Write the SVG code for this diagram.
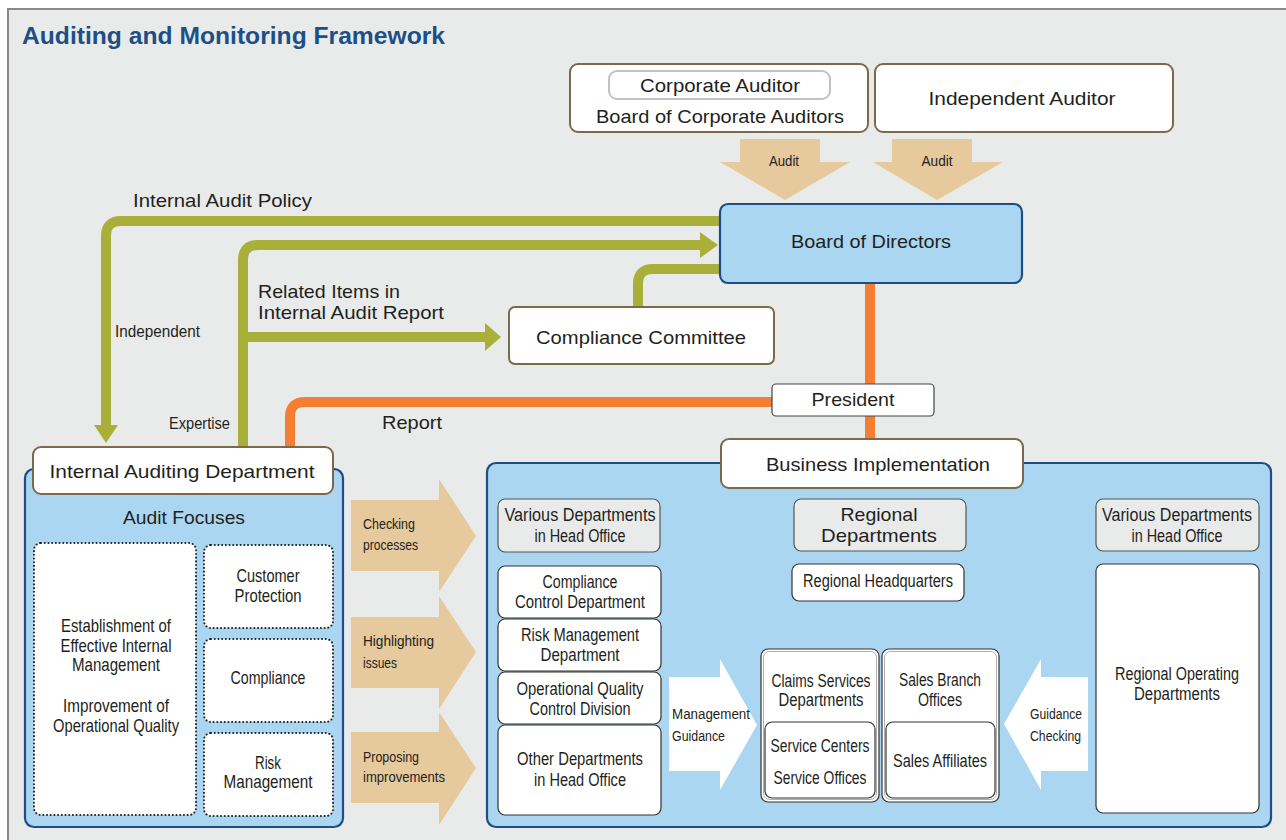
<svg xmlns="http://www.w3.org/2000/svg" width="1286" height="840" viewBox="0 0 1286 840">
<style>
.t{font-family:"Liberation Sans",Arial,sans-serif;fill:#231f20;}
.r{font-size:19px;}
.c{font-size:17.5px;}
.b{font-size:19px;}
.s{font-size:15.5px;}
.m{text-anchor:middle;}
.brn{fill:#fff;stroke:#7b6a4a;stroke-width:2;}
.blu{fill:#aad6f1;stroke:#1e4d85;stroke-width:2.2;}
.wht{fill:#fff;stroke:#333;stroke-width:1.2;}
.gry{fill:#e9ebea;stroke:#555;stroke-width:1.2;}
.dot{fill:#fff;stroke:#222;stroke-width:2;stroke-dasharray:0.1 3.6;stroke-linecap:round;}
.tan{fill:#e6c99c;}
.arw{fill:#fff;}
.grn{fill:none;stroke:#a9b03a;stroke-width:10;}
.grnf{fill:#a9b03a;}
.org{fill:none;stroke:#f47f32;stroke-width:10;}
.tree{fill:none;stroke:#a98b77;stroke-width:5;}
</style>
<rect x="0" y="0" width="1286" height="840" fill="#ffffff"/>
<rect x="8" y="9" width="1290" height="840" fill="#e9ebea" stroke="#8a8a8a" stroke-width="2"/>
<text class="t" x="22" y="44" font-size="24" font-weight="bold" style="fill:#1d4f86" textLength="423" lengthAdjust="spacingAndGlyphs">Auditing and Monitoring Framework</text>

<g id="connectors">
  <path class="grn" d="M722,221 H121 Q106,221 106,236 V427"/>
  <polygon class="grnf" points="94,425 118,425 106,443"/>
  <path class="grn" d="M243,447 V260 Q243,245 258,245 H702"/>
  <polygon class="grnf" points="700,232 718,245 700,258"/>
  <path class="grn" d="M243,337 H487"/>
  <polygon class="grnf" points="485,323 501,337 485,351"/>
  <path class="grn" d="M638,307 V284 Q638,269 653,269 H722"/>
  <path class="org" d="M870,283 V440"/>
  <path class="org" d="M773,402 H305 Q290,402 290,417 V448"/>
  <path class="tree" d="M879,601 V624 M820,649 V624 H941 V649"/>
</g>

<g id="audit-arrow-1">
  <polygon class="tan" points="740,139 820,139 820,162 850,162 785,200 720,162 740,162"/>
  <text class="t m" x="784" y="166" font-size="15.5" textLength="30" lengthAdjust="spacingAndGlyphs">Audit</text>
</g>
<g id="audit-arrow-2">
  <polygon class="tan" points="892,139 972,139 972,162 1003,162 937,200 873,162 892,162"/>
  <text class="t m" x="937" y="166" font-size="15.5" textLength="31" lengthAdjust="spacingAndGlyphs">Audit</text>
</g>

<g id="corporate-auditors">
  <rect class="brn" x="570" y="64" width="298" height="68" rx="8"/>
  <rect x="609" y="71" width="221" height="28" rx="8" fill="#fff" stroke="#c2c2c2" stroke-width="2"/>
  <text class="t r m" x="720" y="92" textLength="160" lengthAdjust="spacingAndGlyphs">Corporate Auditor</text>
  <text class="t r m" x="720" y="123" textLength="248" lengthAdjust="spacingAndGlyphs">Board of Corporate Auditors</text>
</g>
<g id="independent-auditor">
  <rect class="brn" x="875" y="64" width="298" height="68" rx="8"/>
  <text class="t r m" x="1022" y="105" textLength="187" lengthAdjust="spacingAndGlyphs">Independent Auditor</text>
</g>

<g id="board-of-directors">
  <rect class="blu" x="720" y="204" width="302" height="79" rx="8"/>
  <text class="t r m" x="871" y="248" textLength="160" lengthAdjust="spacingAndGlyphs">Board of Directors</text>
</g>

<g id="labels">
  <text class="t r" x="133" y="207" textLength="179" lengthAdjust="spacingAndGlyphs">Internal Audit Policy</text>
  <text class="t" x="115" y="337" font-size="17" textLength="85" lengthAdjust="spacingAndGlyphs">Independent</text>
  <text class="t r" x="258" y="298" textLength="142" lengthAdjust="spacingAndGlyphs">Related Items in</text>
  <text class="t r" x="258" y="319" textLength="186" lengthAdjust="spacingAndGlyphs">Internal Audit Report</text>
  <text class="t" x="169" y="429" font-size="17" textLength="61" lengthAdjust="spacingAndGlyphs">Expertise</text>
  <text class="t r" x="382" y="429" textLength="60" lengthAdjust="spacingAndGlyphs">Report</text>
</g>

<g id="compliance-committee">
  <rect class="brn" x="509" y="307" width="265" height="57" rx="6"/>
  <text class="t r m" x="641" y="344" textLength="210" lengthAdjust="spacingAndGlyphs">Compliance Committee</text>
</g>

<g id="president">
  <rect x="772" y="384" width="162" height="32" rx="4" fill="#fff" stroke="#444" stroke-width="1.2"/>
  <text class="t r m" x="853" y="406" textLength="83" lengthAdjust="spacingAndGlyphs">President</text>
</g>

<g id="audit-focuses">
  <rect class="blu" x="25" y="469" width="318" height="358" rx="9"/>
  <text class="t r m" x="184" y="524" textLength="122" lengthAdjust="spacingAndGlyphs">Audit Focuses</text>
  <rect class="dot" x="34" y="543" width="162" height="272" rx="7"/>
  <text class="t b m" x="116" y="632" textLength="110" lengthAdjust="spacingAndGlyphs">Establishment of</text>
  <text class="t b m" x="116" y="652" textLength="111" lengthAdjust="spacingAndGlyphs">Effective Internal</text>
  <text class="t b m" x="116" y="671" textLength="88" lengthAdjust="spacingAndGlyphs">Management</text>
  <text class="t b m" x="116" y="712" textLength="106" lengthAdjust="spacingAndGlyphs">Improvement of</text>
  <text class="t b m" x="116" y="732" textLength="126" lengthAdjust="spacingAndGlyphs">Operational Quality</text>
  <rect class="dot" x="204" y="545" width="129" height="83" rx="7"/>
  <text class="t b m" x="268" y="582" textLength="63" lengthAdjust="spacingAndGlyphs">Customer</text>
  <text class="t b m" x="268" y="602" textLength="67" lengthAdjust="spacingAndGlyphs">Protection</text>
  <rect class="dot" x="204" y="639" width="129" height="83" rx="7"/>
  <text class="t b m" x="268" y="684" textLength="75" lengthAdjust="spacingAndGlyphs">Compliance</text>
  <rect class="dot" x="204" y="733" width="129" height="83" rx="7"/>
  <text class="t b m" x="268" y="769" textLength="26" lengthAdjust="spacingAndGlyphs">Risk</text>
  <text class="t b m" x="268" y="788" textLength="89" lengthAdjust="spacingAndGlyphs">Management</text>
</g>

<g id="internal-auditing-department">
  <rect class="brn" x="33" y="447" width="300" height="47" rx="8"/>
  <text class="t r m" x="182" y="478" textLength="265" lengthAdjust="spacingAndGlyphs">Internal Auditing Department</text>
</g>

<g id="arrow-checking">
  <polygon class="tan" points="351,500 439,500 439,479 476,536 439,592 439,571 351,571"/>
  <text class="t s" x="363" y="529" textLength="52" lengthAdjust="spacingAndGlyphs">Checking</text>
  <text class="t s" x="363" y="550" textLength="55" lengthAdjust="spacingAndGlyphs">processes</text>
</g>
<g id="arrow-highlighting">
  <polygon class="tan" points="351,617 439,617 439,596 476,652 439,709 439,688 351,688"/>
  <text class="t s" x="363" y="646" textLength="71" lengthAdjust="spacingAndGlyphs">Highlighting</text>
  <text class="t s" x="363" y="668" textLength="34" lengthAdjust="spacingAndGlyphs">issues</text>
</g>
<g id="arrow-proposing">
  <polygon class="tan" points="351,732 439,732 439,712 476,768 439,825 439,803 351,803"/>
  <text class="t s" x="363" y="762" textLength="56" lengthAdjust="spacingAndGlyphs">Proposing</text>
  <text class="t s" x="363" y="782" textLength="82" lengthAdjust="spacingAndGlyphs">improvements</text>
</g>

<g id="business-panel">
  <rect class="blu" x="487" y="463" width="784" height="364" rx="9"/>
</g>

<g id="business-implementation">
  <rect class="brn" x="721" y="439" width="302" height="49" rx="8"/>
  <text class="t r m" x="878" y="471" textLength="224" lengthAdjust="spacingAndGlyphs">Business Implementation</text>
</g>

<g id="head-office-left">
  <rect class="gry" x="498" y="499" width="162" height="53" rx="7"/>
  <text class="t c m" x="580" y="521" textLength="151" lengthAdjust="spacingAndGlyphs">Various Departments</text>
  <text class="t c m" x="580" y="542" textLength="91" lengthAdjust="spacingAndGlyphs">in Head Office</text>
</g>
<g id="compliance-control">
  <rect class="wht" x="498" y="566" width="163" height="52" rx="7"/>
  <text class="t c m" x="580" y="588" textLength="75" lengthAdjust="spacingAndGlyphs">Compliance</text>
  <text class="t c m" x="580" y="608" textLength="130" lengthAdjust="spacingAndGlyphs">Control Department</text>
</g>
<g id="risk-management-dept">
  <rect class="wht" x="498" y="619" width="163" height="52" rx="7"/>
  <text class="t c m" x="580" y="641" textLength="118" lengthAdjust="spacingAndGlyphs">Risk Management</text>
  <text class="t c m" x="580" y="661" textLength="79" lengthAdjust="spacingAndGlyphs">Department</text>
</g>
<g id="operational-quality">
  <rect class="wht" x="498" y="672" width="163" height="52" rx="7"/>
  <text class="t c m" x="580" y="695" textLength="127" lengthAdjust="spacingAndGlyphs">Operational Quality</text>
  <text class="t c m" x="580" y="715" textLength="101" lengthAdjust="spacingAndGlyphs">Control Division</text>
</g>
<g id="other-departments">
  <rect class="wht" x="498" y="725" width="163" height="90" rx="7"/>
  <text class="t c m" x="580" y="765" textLength="126" lengthAdjust="spacingAndGlyphs">Other Departments</text>
  <text class="t c m" x="580" y="786" textLength="92" lengthAdjust="spacingAndGlyphs">in Head Office</text>
</g>

<g id="management-guidance">
  <polygon class="arw" points="669,677 720,677 720,659 757,725 720,790 720,771 669,771"/>
  <text class="t s" x="672" y="719" textLength="78" lengthAdjust="spacingAndGlyphs">Management</text>
  <text class="t s" x="672" y="741" textLength="53" lengthAdjust="spacingAndGlyphs">Guidance</text>
</g>

<g id="regional-departments">
  <rect class="gry" x="794" y="499" width="172" height="52" rx="7"/>
  <text class="t r m" x="879" y="521" textLength="77" lengthAdjust="spacingAndGlyphs">Regional</text>
  <text class="t r m" x="879" y="542" textLength="116" lengthAdjust="spacingAndGlyphs">Departments</text>
</g>
<g id="regional-headquarters">
  <rect class="wht" x="792" y="564" width="172" height="37" rx="7"/>
  <text class="t c m" x="878" y="587" textLength="150" lengthAdjust="spacingAndGlyphs">Regional Headquarters</text>
</g>
<g id="claims-services">
  <rect class="wht" x="761" y="649" width="118" height="153" rx="7"/>
  <rect x="763.5" y="651.5" width="113" height="148" rx="6" fill="none" stroke="#999" stroke-width="0.8"/>
  <text class="t c m" x="821" y="687" textLength="99" lengthAdjust="spacingAndGlyphs">Claims Services</text>
  <text class="t c m" x="821" y="706" textLength="85" lengthAdjust="spacingAndGlyphs">Departments</text>
  <rect class="wht" x="765" y="722" width="110" height="76" rx="7"/>
  <text class="t c m" x="820" y="752" textLength="99" lengthAdjust="spacingAndGlyphs">Service Centers</text>
  <text class="t c m" x="820" y="784" textLength="93" lengthAdjust="spacingAndGlyphs">Service Offices</text>
</g>
<g id="sales-branch">
  <rect class="wht" x="882" y="649" width="117" height="153" rx="7"/>
  <rect x="884.5" y="651.5" width="112" height="148" rx="6" fill="none" stroke="#999" stroke-width="0.8"/>
  <text class="t c m" x="940" y="686" textLength="82" lengthAdjust="spacingAndGlyphs">Sales Branch</text>
  <text class="t c m" x="940" y="706" textLength="44" lengthAdjust="spacingAndGlyphs">Offices</text>
  <rect class="wht" x="886" y="722" width="109" height="76" rx="7"/>
  <text class="t c m" x="940" y="767" textLength="94" lengthAdjust="spacingAndGlyphs">Sales Affiliates</text>
</g>

<g id="guidance-checking">
  <polygon class="arw" points="1088,677 1041,677 1041,659 1004,724 1041,790 1041,771 1088,771"/>
  <text class="t s" x="1030" y="719" textLength="52" lengthAdjust="spacingAndGlyphs">Guidance</text>
  <text class="t s" x="1030" y="741" textLength="51" lengthAdjust="spacingAndGlyphs">Checking</text>
</g>

<g id="head-office-right">
  <rect class="gry" x="1096" y="499" width="163" height="52" rx="7"/>
  <text class="t c m" x="1177" y="521" textLength="150" lengthAdjust="spacingAndGlyphs">Various Departments</text>
  <text class="t c m" x="1177" y="542" textLength="91" lengthAdjust="spacingAndGlyphs">in Head Office</text>
</g>
<g id="regional-operating">
  <rect class="wht" x="1096" y="564" width="163" height="249" rx="7"/>
  <text class="t c m" x="1177" y="680" textLength="124" lengthAdjust="spacingAndGlyphs">Regional Operating</text>
  <text class="t c m" x="1177" y="700" textLength="86" lengthAdjust="spacingAndGlyphs">Departments</text>
</g>
</svg>
